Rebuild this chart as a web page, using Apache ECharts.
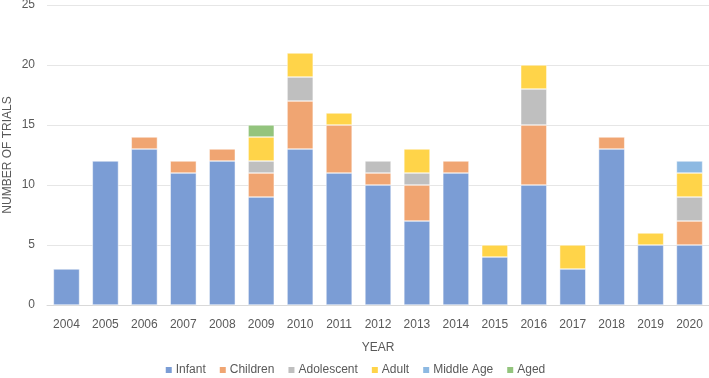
<!DOCTYPE html>
<html>
<head>
<meta charset="utf-8">
<script src="https://cdn.jsdelivr.net/npm/echarts@6/dist/echarts.min.js"></script>
<style>
  html, body { margin: 0; padding: 0; background: #fff; }
  #chart { width: 709px; height: 378px; }
</style>
</head>
<body>
<div id="chart"></div>
<script>
const years = ['2004', '2005', '2006', '2007', '2008', '2009', '2010', '2011', '2012',
  '2013', '2014', '2015', '2016', '2017', '2018', '2019', '2020'];
const infant     = [3, 12, 13, 11, 12, 9, 13, 11, 10, 7, 11, 4, 10, 3, 13, 5, 5];
const children   = [0, 0, 1, 1, 1, 2, 4, 4, 1, 3, 1, 0, 5, 0, 1, 0, 2];
const adolescent = [0, 0, 0, 0, 0, 1, 2, 0, 1, 1, 0, 0, 3, 0, 0, 0, 2];
const adult      = [0, 0, 0, 0, 0, 2, 2, 1, 0, 2, 0, 1, 2, 2, 0, 1, 2];
const middleAge  = [0, 0, 0, 0, 0, 0, 0, 0, 0, 0, 0, 0, 0, 0, 0, 0, 1];
const aged       = [0, 0, 0, 0, 0, 1, 0, 0, 0, 0, 0, 0, 0, 0, 0, 0, 0];

const seriesDefs = [
  ['Infant', infant, '#7b9dd5'],
  ['Children', children, '#f0a572'],
  ['Adolescent', adolescent, '#bfbfbf'],
  ['Adult', adult, '#ffd449'],
  ['Middle Age', middleAge, '#8db9e2'],
  ['Aged', aged, '#93c47d']
];

const chart = echarts.init(document.getElementById('chart'));
const txt = '#595959';
const font = '"Liberation Sans", Arial, sans-serif';
chart.setOption({
  animation: false,
  textStyle: { fontFamily: font, color: txt },
  legend: {
    top: 359,
    left: 'center',
    itemWidth: 8,
    itemHeight: 8,
    itemGap: 12,
    icon: 'rect',
    textStyle: { fontFamily: font, fontSize: 12, color: txt, padding: [0, 0, 0, -2] }
  },
  grid: { left: 47, right: 0, top: 5, bottom: 73, outerBoundsMode: 'none' },
  xAxis: {
    type: 'category',
    data: years,
    name: 'YEAR',
    nameLocation: 'middle',
    nameGap: 37,
    nameTextStyle: { fontFamily: font, fontSize: 12, color: txt },
    axisLine: { lineStyle: { color: '#d9d9d9', width: 1 } },
    axisTick: { show: false },
    axisLabel: { fontFamily: font, fontSize: 12, color: txt, margin: 14, interval: 0 }
  },
  yAxis: {
    type: 'value',
    min: 0,
    max: 25,
    interval: 5,
    name: 'NUMBER OF TRIALS',
    nameLocation: 'middle',
    nameGap: 33,
    nameMoveOverlap: false,
    nameTextStyle: { fontFamily: font, fontSize: 12, color: txt },
    axisLabel: { fontFamily: font, fontSize: 12, color: txt, margin: 12 },
    splitLine: { lineStyle: { color: '#e6e6e6' } }
  },
  series: seriesDefs.map(([name, values, color]) => ({
    name,
    type: 'bar',
    stack: 'total',
    barWidth: '67%',
    data: values.map(v => v === 0 ? null : v),
    itemStyle: { color, borderColor: '#ffffff', borderWidth: 0.5 }
  }))
});
</script>
</body>
</html>
